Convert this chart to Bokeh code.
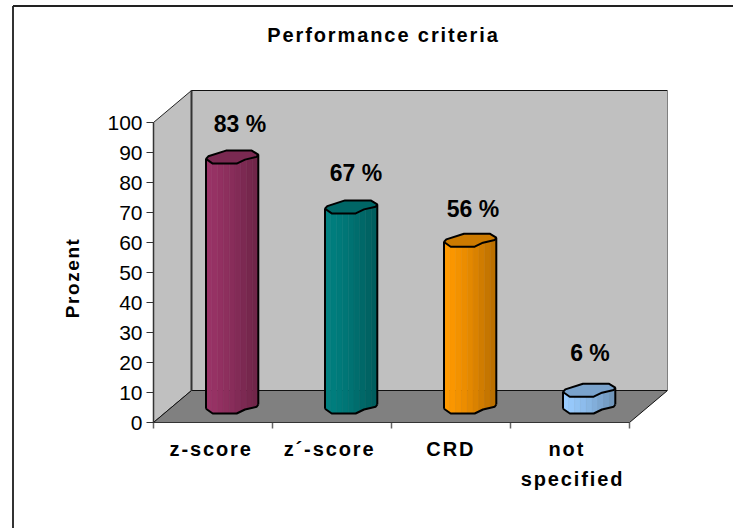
import numpy as np
from bokeh.plotting import figure, curdoc
from bokeh.events import DocumentReady
from bokeh.models import Range1d, FixedTicker, CustomJS
from bokeh.core.properties import value
from bokeh.embed import file_html
from bokeh.resources import INLINE

categories = ["z-score", "z´-score", "CRD", "not\nspecified"]
percent = [83.3, 66.7, 55.6, 5.6]
colours = [("#993366", "#702549"), ("#008080", "#005e5e"), ("#ff9900", "#bb7000"), ("#99ccff", "#7096bb")]
top_colours = ["#7a2951", "#006666", "#cc7a00", "#7aa3cc"]
y_ticks = list(range(0, 101, 10))

# scale: px per unit, and origin in page pixels
PX, PY = 119.0, 3.0
OX, OY = 153.0, 422.0
W, H = 733, 528
DX, DY = 38 / PX, 32 / PY   # depth of the 3-D box
label_nudge = [(8, 33), (5, 33), (3, 31), (1, 37)]     # data-label offsets, px
cat_nudge = [8.5, 10, 3, 6]                            # letter-spacing compensation, px

p = figure(width=W, height=H, output_backend="svg", toolbar_location=None,
           x_range=Range1d((0 - OX) / PX, (W - OX) / PX),
           y_range=Range1d((OY - H) / PY, (OY - 0) / PY),
           min_border=0, background_fill_color="white", border_fill_color="white",
           outline_line_color=None)
p.grid.visible = False

# chart-area border: top and left only
fx = lambda px: (px - OX) / PX
fy = lambda py: (OY - py) / PY
p.line([fx(12.5), fx(12.5)], [fy(H), fy(5.5)], line_color="#333333", line_width=2)
p.line([fx(12.5), fx(W)], [fy(5.5), fy(5.5)], line_color="#222222", line_width=2)

# walls and floor
p.patch([0, DX, DX, 0], [0, DY, 100 + DY, 100], fill_color="#c0c0c0", line_color="#222222", line_width=1)
p.patch([DX, 4 + DX, 4 + DX, DX], [DY, DY, 100 + DY, 100 + DY], fill_color="#c0c0c0", line_color=None)
p.patch([0, 4, 4 + DX, DX], [0, 0, DY, DY], fill_color="#808080", line_color="#111111", line_width=1)
p.line([DX, DX], [DY, 100 + DY], line_color="#333333", line_width=2)
p.line([DX, 4 + DX], [100 + DY, 100 + DY], line_color="#111111", line_width=1.2)
p.line([4 + DX, 4 + DX], [DY, 100 + DY], line_color="#808080", line_width=1)

# cylinder outline, relative to centre (px)
rim_x = np.array([-26, -23.7, -6, 19.7, 26.3, 24.7, 13, 4.7, -19.3, -26]) / PX
rim_y = -np.array([2.3, -0.3, -6, -6, -2, 0.3, 3, 7, 7, 2.3]) / PY
low_x = np.array([-26, -19.3, 4.7, 13, 24.7, 26.3]) / PX
low_y = -np.array([2.3, 7, 7, 3, 0.3, -2]) / PY
N = 9
for i, (v, (c0, c1), tc) in enumerate(zip(percent, colours, top_colours)):
    cx = i + 0.5 + DX / 2
    by = DY / 2
    a = np.array([int(c0[j:j + 2], 16) for j in (1, 3, 5)], float)
    b = np.array([int(c1[j:j + 2], 16) for j in (1, 3, 5)], float)
    edges = np.linspace(low_x[0], low_x[-1], N + 1)
    for k in range(N):
        t = k / (N - 1)
        col = "#%02x%02x%02x" % tuple(int(c) for c in a + (b - a) * t ** 1.3)
        sx = np.unique(np.r_[edges[k:k + 2], low_x[(low_x > edges[k]) & (low_x < edges[k + 1])]])
        sy = np.interp(sx, low_x, low_y)
        p.patch(list(cx + np.r_[sx, sx[::-1]]), list(by + np.r_[sy, (sy + v)[::-1]]),
                fill_color=col, line_color=col, line_width=0.5)
    p.line(list(cx + low_x), list(by + low_y), line_color="black", line_width=2)
    p.line([cx + low_x[0]] * 2, [by + low_y[0], by + v + low_y[0]], line_color="black", line_width=2)
    p.line([cx + low_x[-1]] * 2, [by + low_y[-1], by + v + low_y[-1]], line_color="black", line_width=2)
    p.patch(list(cx + rim_x), list(by + v + rim_y), fill_color=tc, line_color="black", line_width=2)
    nx, ny = label_nudge[i]
    p.text([cx + nx / PX], [by + v + ny / PY], text=[f"{round(v)} %"], text_font=value("Liberation Sans"),
           text_font_style="bold", text_font_size="23px", text_color="black",
           text_align="center", text_baseline="middle")

# axes on the 3-D box's front edges
xa = p.xaxis[0]
xa.fixed_location = 0
xa.bounds = (0, 4)
cat_ticks = [i + 0.5 - n / PX for i, n in enumerate(cat_nudge)]
xa.ticker = FixedTicker(ticks=cat_ticks, minor_ticks=[])
xa.major_label_overrides = dict(zip(cat_ticks, categories))
xa.major_tick_in = 0
xa.major_tick_out = 0
xa.minor_tick_out = 0
xa.axis_line_color = "#333333"
xa.major_label_text_font = "Liberation Sans"
xa.major_label_text_font_style = "bold"
xa.major_label_text_font_size = "20px"
xa.major_label_text_line_height = 1.38
xa.major_label_text_color = "black"
xa.major_label_standoff = 15

ya = p.yaxis[0]
ya.fixed_location = 0
ya.bounds = (0, 100)
ya.ticker = FixedTicker(ticks=y_ticks, minor_ticks=[])
ya.major_tick_in = 0
ya.major_tick_out = 7
ya.minor_tick_out = 0
ya.minor_tick_in = 0
ya.axis_line_color = "#333333"
ya.axis_line_width = 1.5
ya.major_tick_line_color = "#333333"
ya.major_label_text_font = "Liberation Sans"
ya.major_label_text_font_size = "21px"
ya.major_label_text_color = "black"
ya.major_label_standoff = 4

# category ticks
for t in range(5):
    p.line([t, t], [0, -6 / PY], line_color="#666666", line_width=1.5)

p.text([fx(364)], [fy(34)], text=["Performance criteria"], text_font=value("Liberation Sans"),
       text_font_style="bold", text_font_size="20px", text_color="black",
       text_align="center", text_baseline="middle")
p.text([fx(72)], [fy(283)], text=["Prozent"], text_font=value("Liberation Sans"),
       text_font_style="bold", text_font_size="19px", text_color="black", angle=np.pi / 2,
       text_align="center", text_baseline="middle")

# the reference's bold captions are letter-spaced; Bokeh has no property for it
css = 'text[font-size="20px"]{letter-spacing:1.9px} text[font-size="19px"]{letter-spacing:1.6px}'
spacing = CustomJS(args=dict(css=css), code="""
function walk(root) {
  root.querySelectorAll('*').forEach(e => {
    if (e.shadowRoot) {
      if (!e.shadowRoot.querySelector('style[data-ls]')) {
        const s = document.createElement('style');
        s.setAttribute('data-ls', '1');
        s.textContent = css;
        e.shadowRoot.appendChild(s);
      }
      walk(e.shadowRoot);
    }
  });
}
[0, 100, 400].forEach(t => setTimeout(() => walk(document), t));
""")
curdoc().add_root(p)
curdoc().js_on_event(DocumentReady, spacing)

open("out.html", "w").write(file_html(p, INLINE))
